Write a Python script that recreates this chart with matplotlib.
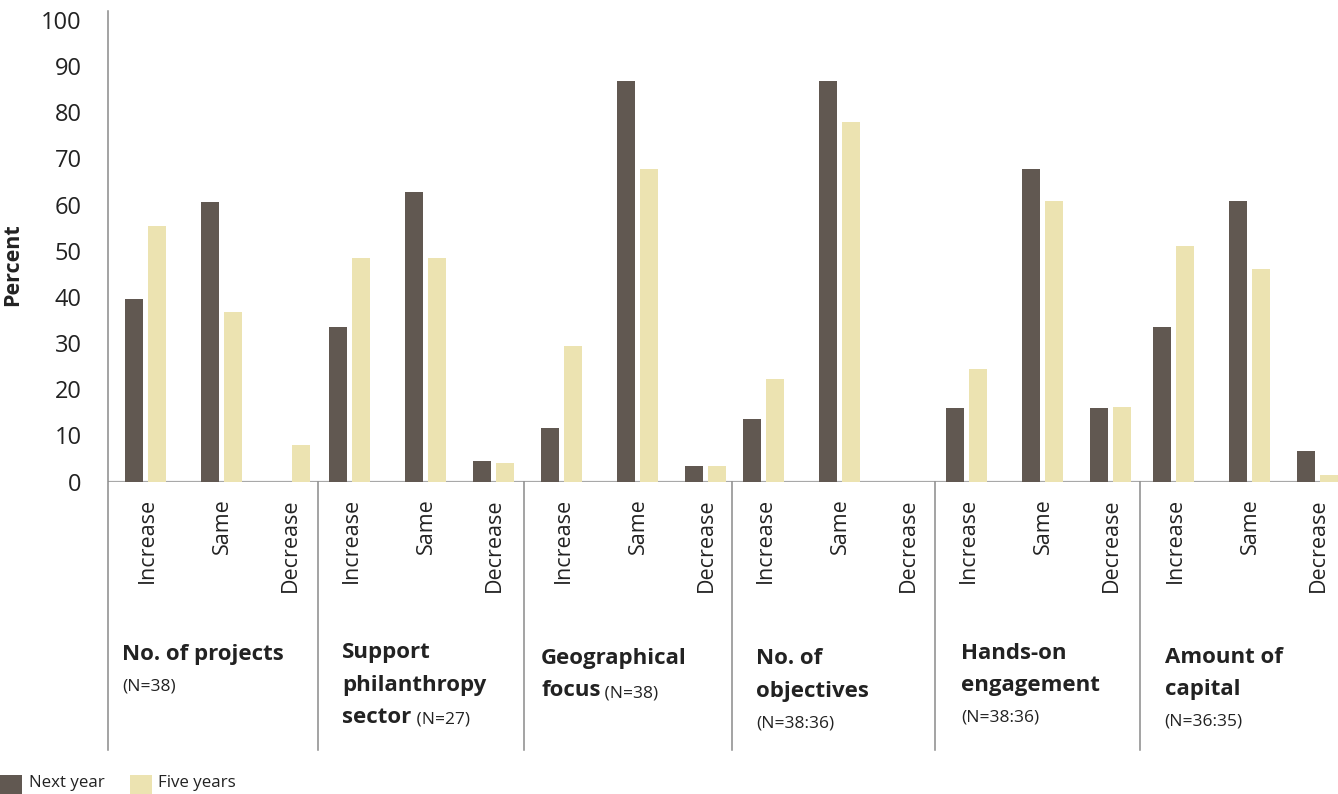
import matplotlib
matplotlib.use("Agg")
import matplotlib.pyplot as plt
from matplotlib import transforms
from matplotlib.patches import Rectangle
from matplotlib.lines import Line2D

# ---- data -------------------------------------------------------------
responses = ["Increase", "Same", "Decrease"]
topics = ["No. of projects", "Support philanthropy sector", "Geographical focus",
          "No. of objectives", "Hands-on engagement", "Amount of capital"]
sample_sizes = ["(N=38)", "(N=27)", "(N=38)", "(N=38:36)", "(N=38:36)", "(N=36:35)"]
series_names = ["Next year", "Five years"]

# percent per topic: Increase, Same, Decrease
next_year = [
    [39.5, 60.5, 0.0],
    [33.5, 62.7, 4.5],
    [11.6, 86.7, 3.4],
    [13.6, 86.7, 0.0],
    [16.0, 67.7, 16.0],
    [33.5, 60.7, 6.6],
]
five_years = [
    [55.3, 36.8, 7.9],
    [48.4, 48.4, 4.0],
    [29.4, 67.7, 3.4],
    [22.2, 77.9, 0.0],
    [24.4, 60.7, 16.2],
    [51.0, 46.0, 1.5],
]
y_ticks = list(range(0, 101, 10))

# ---- styling / layout ---------------------------------------------------
DARK = "#615851"
LIGHT = "#ece3b1"
TEXT = "#222222"
SEP = "#8a8a8a"
BASE = "#a8a8a8"
FONT = "Open Sans"

W, H = 1338, 794
fig = plt.figure(figsize=(W / 100, H / 100), dpi=100)

# x axis runs in canvas-like units across the plotting strip
x_lo, x_hi = 108, 1338
y0_px, y100_px = 481.7, 19.7
ax = fig.add_axes([x_lo / W, 1 - y0_px / H, (x_hi - x_lo) / W, (y0_px - y100_px) / H])
ax.set_xlim(x_lo, x_hi)
ax.set_ylim(0, 100)
for s in ax.spines.values():
    s.set_visible(False)

# line breaks of the topic titles; flag: sample size on the same line
title_lines = [
    (["No. of projects"], False),
    (["Support", "philanthropy", "sector"], True),
    (["Geographical", "focus"], True),
    (["No. of", "objectives"], False),
    (["Hands-on", "engagement"], False),
    (["Amount of", "capital"], False),
]
group_starts = [108, 318.3, 524, 732.3, 935, 1139.7]
group_shift = [37.5, 31.2, 37.5, 31.2, 31.5, 33.8]
slot_steps = [0, 75.7, 143.5]
title_indent = [14, 24, 17, 24, 26, 25]
title_first_baseline = [660, 658, 664, 664, 659, 663]
line_step = 32.5

bar_w, half_gap = 18, 2.5
centers = []
for g, gs in enumerate(group_starts):
    for k in range(len(responses)):
        centers.append(gs + group_shift[g] + slot_steps[k])

flat_next = [v for row in next_year for v in row]
flat_five = [v for row in five_years for v in row]
dx = bar_w / 2 + half_gap
ax.bar([c - dx for c in centers], flat_next, width=bar_w, color=DARK, zorder=3,
       label=series_names[0])
ax.bar([c + dx for c in centers], flat_five, width=bar_w, color=LIGHT, zorder=3,
       label=series_names[1])

# baseline
ax.axhline(0, color=BASE, lw=1.6, zorder=2)

# y ticks
ax.set_yticks(y_ticks)
ax.set_yticklabels([str(t) for t in y_ticks], fontsize=17, family=FONT, color=TEXT)
ax.tick_params(axis="y", length=0, pad=19)

# response labels under each pair
ax.set_xticks(centers)
ax.set_xticklabels(responses * len(topics), rotation=90, fontsize=15.5,
                   family=FONT, color=TEXT, va="top", ha="center")
ax.tick_params(axis="x", length=0, pad=12)
nudge = transforms.ScaledTranslation(1.5 / 100, 0, fig.dpi_scale_trans)
for lbl in ax.get_xticklabels():
    lbl.set_transform(lbl.get_transform() + nudge)

# axis title
fig.text(13 / W, 1 - 265 / H, "Percent", rotation=90, fontsize=15.5, weight="bold",
         family=FONT, color=TEXT, ha="center", va="center")

# vertical rules: left axis and group separators
trans = transforms.blended_transform_factory(ax.transData, fig.transFigure)
bottom_f = 1 - 750 / H
fig.add_artist(Line2D([x_lo, x_lo], [1 - 11 / H, bottom_f], transform=trans,
                      color=SEP, lw=1.1, clip_on=False))
for gs in group_starts[1:]:
    fig.add_artist(Line2D([gs, gs], [1 - y0_px / H, bottom_f], transform=trans,
                          color=SEP, lw=1.1, clip_on=False))

# topic titles
for g, (lines, inline_n) in enumerate(title_lines):
    x = group_starts[g] + title_indent[g]
    last = None
    for i, ln in enumerate(lines):
        yb = title_first_baseline[g] + i * line_step
        last = fig.text(0, 0, ln, transform=trans, fontsize=16, weight="bold",
                        family=FONT, color=TEXT, ha="left", va="baseline")
        last.set_position((x, 1 - yb / H))
    n_lines = len(lines)
    if inline_n:
        ax.annotate(" " + sample_sizes[g], xy=(1, 0), xycoords=last,
                    fontsize=12.5, family=FONT, color=TEXT,
                    ha="left", va="bottom", annotation_clip=False)
    else:
        yb = title_first_baseline[g] + n_lines * line_step - 2
        t = fig.text(0, 0, sample_sizes[g], transform=trans, fontsize=12.5,
                     family=FONT, color=TEXT, ha="left", va="baseline")
        t.set_position((x, 1 - yb / H))

# legend
legend_items = [(0, 29, DARK, series_names[0]), (130, 158, LIGHT, series_names[1])]
for sq_x, tx_x, col, name in legend_items:
    fig.add_artist(Rectangle((sq_x / W, 0), 22 / W, 19 / H, transform=fig.transFigure,
                             facecolor=col, edgecolor="none"))
    fig.text(tx_x / W, 1 - 783 / H, name, fontsize=12.2, family=FONT, color=TEXT,
             ha="left", va="center")

fig.savefig("out.png", dpi=100)
